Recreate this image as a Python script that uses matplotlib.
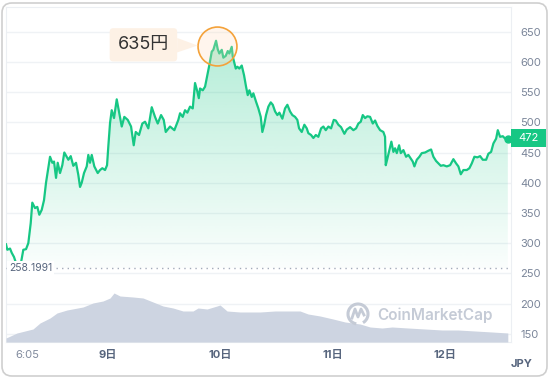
import numpy as np
import matplotlib.pyplot as plt
from matplotlib.patches import PathPatch, Rectangle, FancyBboxPatch, Arc
from matplotlib.transforms import blended_transform_factory, offset_copy, IdentityTransform

plt.rcParams['font.family'] = ['Inter', 'Noto Sans CJK JP', 'DejaVu Sans']

# hours counted from 8日 0:00, price in JPY
hours = [2.20, 2.48, 3.06, 3.42, 3.91, 4.55, 5.19, 5.90, 6.48, 6.97, 7.48, 7.82, 8.40, 8.89,
         9.32, 9.83, 10.32, 10.75, 11.24, 11.61, 12.10, 12.46, 12.89, 13.25, 13.74, 14.23,
         14.66, 15.17, 15.52, 16.03, 16.58, 17.16, 17.65, 18.02, 18.38, 18.87, 19.45, 19.79,
         20.15, 20.52, 21.07, 21.80, 22.29, 22.78, 23.36, 23.79, 24.06, 24.43, 24.79, 25.28,
         25.86, 26.41, 26.93, 27.48, 28.21, 28.92, 29.49, 29.92, 30.62, 31.33, 31.91, 32.61,
         33.34, 34.04, 34.62, 35.33, 35.90, 36.33, 37.25, 38.17, 39.02, 39.39, 39.96, 40.45,
         40.95, 41.52, 42.10, 42.59, 43.08, 43.40, 43.66, 44.24, 44.73, 45.22, 45.65, 46.16,
         46.50, 47.08, 47.44, 47.78, 48.30, 48.64, 49.15, 49.58, 49.92, 50.43, 50.65, 50.93,
         51.29, 51.63, 52.06, 52.57, 53.06, 53.49, 53.85, 54.20, 54.71, 55.05, 55.63, 56.12,
         56.63, 56.97, 57.34, 57.76, 58.26, 58.77, 59.20, 59.69, 60.18, 60.61, 61.25, 61.82,
         62.32, 62.89, 63.38, 63.96, 64.45, 64.82, 65.39, 65.95, 66.46, 66.80, 67.38, 67.87,
         68.39, 68.94, 69.52, 70.01, 70.52, 71.08, 71.66, 72.23, 72.66, 73.21, 73.79, 74.50,
         75.01, 75.72, 76.42, 77.00, 77.49, 78.00, 78.43, 78.92, 79.41, 79.99, 80.57, 81.06,
         81.55, 82.13, 82.83, 83.19, 83.34, 83.69, 84.11, 84.54, 84.97, 85.33, 85.70, 86.19,
         86.55, 87.11, 87.68, 88.17, 88.69, 89.11, 89.46, 89.97, 90.53, 91.04, 91.74, 92.45,
         93.03, 93.52, 94.09, 94.59, 95.10, 95.65, 96.38, 97.09, 97.79, 98.37, 98.86, 99.37,
         99.93, 100.65, 101.21, 101.72, 102.28, 102.92, 103.50, 104.07, 104.78, 105.27, 105.85,
         106.34, 106.92, 107.28, 107.77, 108.35, 108.84, 109.42]
price = [298, 289, 291, 284, 277, 262, 258.2, 289, 290, 300, 333, 367, 358, 360,
         347, 355, 371, 400, 424, 443, 433, 435, 408, 433, 416, 429,
         450, 443, 438, 444, 428, 433, 413, 393, 400, 416, 427, 446,
         433, 446, 427, 416, 421, 424, 421, 429, 460, 499, 520, 507,
         538, 515, 493, 509, 504, 493, 462, 484, 479, 498, 501, 490,
         525, 509, 498, 512, 504, 484, 493, 487, 504, 515, 509, 520,
         516, 526, 523, 565, 551, 540, 556, 553, 559, 578, 595, 617,
         620, 635, 621, 614, 620, 607, 610, 618, 614, 625, 609, 600,
         589, 592, 589, 594, 578, 559, 545, 553, 542, 548, 534, 523,
         509, 484, 495, 512, 526, 533, 529, 518, 512, 516, 506, 523,
         529, 518, 512, 509, 504, 490, 484, 496, 490, 482, 479, 474,
         479, 476, 490, 493, 487, 493, 490, 504, 503, 496, 492, 481,
         488, 492, 487, 490, 498, 501, 512, 507, 510, 509, 498, 503,
         494, 487, 484, 476, 429, 440, 454, 468, 451, 457, 449, 462,
         449, 454, 443, 446, 440, 435, 427, 438, 443, 449, 450, 453,
         455, 443, 436, 432, 428, 429, 427, 429, 439, 432, 427, 414,
         421, 421, 424, 432, 443, 442, 444, 438, 438, 448, 451,
         465, 473, 487, 476, 477, 473, 472]

vol_hours = [2.20, 4.55, 7.97, 9.47, 11.61, 13.10, 15.24, 18.66, 20.79, 22.93, 24.43, 25.28,
             26.56, 29.34, 31.48, 33.62, 35.75, 37.89, 40.03, 42.16, 43.23, 45.16, 47.29,
             47.93, 49.43, 52.21, 56.48, 59.69, 65.03, 66.74, 69.30, 72.08, 74.65, 77.85,
             79.99, 82.55, 84.69, 88.11, 91.74, 95.38, 98.80, 102.43, 106.06, 109.42]
volume = [4, 9, 13, 19, 24, 29, 32, 35, 39, 41, 44, 49,
          46, 45, 44, 40, 36, 34, 31, 31, 34, 33, 36,
          37, 31, 30, 30, 31, 31, 28, 26, 23, 20, 18,
          15, 14, 15, 14, 13, 12, 12, 11, 10, 9]

low_price = 258.1991
price_ticks = [150, 200, 250, 300, 350, 400, 450, 500, 550, 600, 650]
tick_hours = [6.69, 24, 48, 72, 96]
tick_labels = ['6:05', '9日', '10日', '11日', '12日']

GREEN = '#16c784'

fig = plt.figure(figsize=(5.5, 3.78), dpi=100)
ax = fig.add_axes([6 / 550, 1 - 342 / 378, 505 / 550, 335 / 378])

# volume on a hidden twin axis (made first, twinx moves ticks to the left)
ax2 = ax.twinx()
ax2.fill_between(vol_hours, volume, 0, color='#cdd4e1', lw=0)
ax2.set_ylim(0, 335)
ax2.axis('off')

# price line with fading fill
ax.plot(hours, price, color=GREEN, lw=1.6, zorder=4, solid_joinstyle='round')
poly = ax.fill_between(hours, price, low_price, facecolor='none', edgecolor='none')
clip = PathPatch(poly.get_paths()[0], transform=ax.transData, fc='none', ec='none')
ax.add_patch(clip)
grad = np.zeros((256, 1, 4))
grad[..., :3] = [22 / 255, 199 / 255, 132 / 255]
grad[:, 0, 3] = np.linspace(0.02, 0.32, 256)
im = ax.imshow(grad, extent=[hours[0], hours[-1], low_price, max(price)],
               origin='lower', aspect='auto', zorder=2)
im.set_clip_path(clip)

ax.set_xlim(2.2, 110.1)
ax.set_ylim(136.3, 690.9)

# lowest price line
ax.axhline(low_price, color='#a3abba', lw=1, ls=(0, (1, 3)), zorder=3)
bt = blended_transform_factory(ax.transAxes, ax.transData)
ax.text(0.006, low_price, '258.1991', transform=bt, ha='left', va='center',
        fontsize=7.5, color='#58667e', zorder=5,
        bbox=dict(fc='white', ec='none', pad=1.5))

# peak callout
i = int(np.argmax(price))
tr = offset_copy(ax.transData, fig=fig, x=1, y=-5, units='dots')
ax.plot([hours[i]], [price[i]], 'o', ms=28, mfc=(1, 0.86, 0.72, 0.25),
        mec='#f4a23a', mew=1.2, transform=tr, zorder=6)
ax.annotate(f'{price[i]}円', xy=(hours[i], price[i]), xycoords=tr,
            xytext=(-53, 0.7), textcoords='offset points', ha='center', va='center',
            fontsize=13, color='#333333', zorder=6,
            bbox=dict(boxstyle='round,pad=0.45,rounding_size=0.2', fc='#fdf1e5', ec='none'),
            arrowprops=dict(arrowstyle='wedge,tail_width=0.8,shrink_factor=0.5',
                            fc='#fdf1e5', ec='none', shrinkA=0, shrinkB=14))

# last price marker and badge
ax.plot(hours[-1], price[-1], 'o', ms=5, color=GREEN, zorder=6, clip_on=False)
ax.add_patch(Rectangle((1.0, price[-1] - 13), 0.0693, 29.4, transform=bt, fc=GREEN,
                       ec='none', clip_on=False, zorder=7))
ax.text(1.0347, price[-1] + 1.5, str(price[-1]), transform=bt, ha='center', va='center',
        color='white', fontsize=8, zorder=8, clip_on=False)

# axes styling
ax.yaxis.tick_right()
ax.set_yticks(price_ticks)
ax.tick_params(axis='y', which='both', left=False, labelleft=False, right=False,
               labelright=True, length=0, pad=6.5, labelsize=8, labelcolor='#7a8599')
ax.set_xticks(tick_hours, tick_labels)
ax.tick_params(axis='x', length=0, pad=6, labelsize=8)
for j, lab in enumerate(ax.get_xticklabels()):
    if j == 0:
        lab.set_color('#808a9d')
    else:
        lab.set_color('#58667e')
        lab.set_fontweight('bold')
ax.grid(axis='y', color='#eff2f5', lw=1)
ax.set_axisbelow(True)
for s in ax.spines.values():
    s.set_color('#eceff3')

# extras
fig.text(522 / 550, 1 - 364 / 378, 'JPY', ha='center', va='center', fontsize=8,
         fontweight='bold', color='#58667e')
fig.text(377 / 550, 1 - 315 / 378, 'CoinMarketCap', ha='left', va='center', fontsize=11,
         fontweight='semibold', color='#c5cbd6')
fig.add_artist(Arc((358, 378 - 314), 20, 20, theta1=-60, theta2=260, lw=2.2,
                   color='#c5cbd6', transform=IdentityTransform()))
fig.add_artist(plt.Line2D([352, 355, 358, 361, 364], [60, 69, 61, 69, 63], lw=2,
                          color='#c5cbd6', transform=IdentityTransform()))
fig.add_artist(FancyBboxPatch((2 / 550, 2 / 378), 545 / 550, 373 / 378,
                              boxstyle='round,pad=0,rounding_size=0.018',
                              mutation_aspect=550 / 378, transform=fig.transFigure,
                              fc='none', ec='#cfcfcf', lw=1.2))

fig.savefig('out.png', dpi=100)
